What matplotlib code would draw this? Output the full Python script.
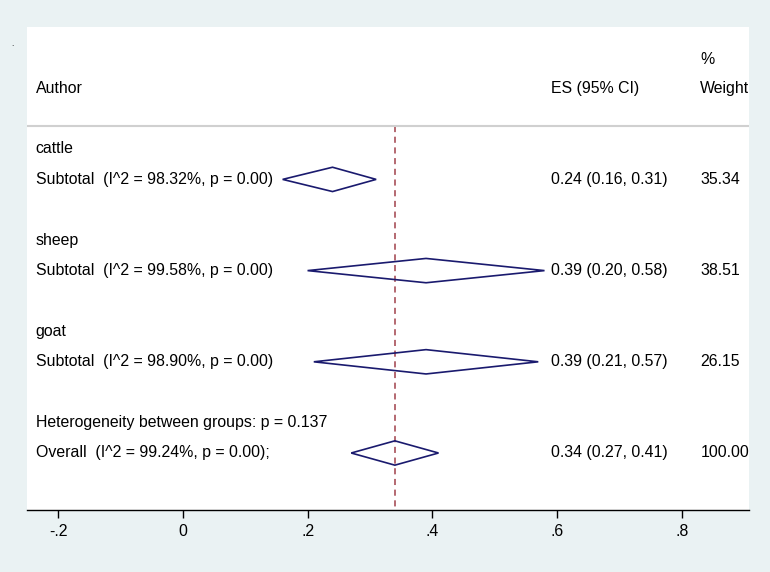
import numpy as np
import matplotlib.pyplot as plt
from matplotlib.patches import Polygon

plt.rcParams['font.family'] = ['Liberation Sans', 'DejaVu Sans']

# subgroup / overall pooled estimates
labels = ['Subtotal  (I^2 = 98.32%, p = 0.00)',
          'Subtotal  (I^2 = 99.58%, p = 0.00)',
          'Subtotal  (I^2 = 98.90%, p = 0.00)',
          'Overall  (I^2 = 99.24%, p = 0.00);']
groups = ['cattle', 'sheep', 'goat', 'Heterogeneity between groups: p = 0.137']
es = [0.24, 0.39, 0.39, 0.34]
lo = [0.16, 0.20, 0.21, 0.27]
hi = [0.31, 0.58, 0.57, 0.41]
weights = ['35.34', '38.51', '26.15', '100.00']
xticks = [-0.2, 0, 0.2, 0.4, 0.6, 0.8]
xticklabels = ['-.2', '0', '.2', '.4', '.6', '.8']

# row positions (counted from the top)
group_rows = [3, 6, 9, 12]
est_rows = [4, 7, 10, 13]

fig = plt.figure(figsize=(7.7, 5.72), dpi=100)
fig.patch.set_facecolor('#eaf2f3')
ax = fig.add_axes([27 / 770, 62 / 572, 722 / 770, 483 / 572])
ax.set_facecolor('white')
ax.set_xlim(-0.25, 0.908)
ax.set_ylim(14.875, -1.013)

fs = 11.4
x_lab = -0.236
x_es = 0.591
x_w = 0.83

ax.text(x_w, 0.05, '%', fontsize=fs, va='center')
ax.text(x_lab, 1, 'Author', fontsize=fs, va='center')
ax.text(x_es, 1, 'ES (95% CI)', fontsize=fs, va='center')
ax.text(x_w, 1, 'Weight', fontsize=fs, va='center', clip_on=True)
ax.axhline(2.24, color='#d0d0d0', lw=1.5)

ax.plot([es[3], es[3]], [2.24, 14.875], color='#a0404a', lw=1.1,
        ls=(0, (4, 3)), zorder=1)

for i in range(len(es)):
    ax.text(x_lab, group_rows[i], groups[i], fontsize=fs, va='center')
    ax.text(x_lab, est_rows[i], labels[i], fontsize=fs, va='center')
    ax.text(x_es, est_rows[i], '%.2f (%.2f, %.2f)' % (es[i], lo[i], hi[i]),
            fontsize=fs, va='center')
    ax.text(x_w, est_rows[i], weights[i], fontsize=fs, va='center',
            clip_on=True)
    r = est_rows[i]
    d = Polygon([[lo[i], r], [es[i], r - 0.4], [hi[i], r], [es[i], r + 0.4]],
                closed=True, fill=False, edgecolor='#1a1a6e', lw=1.2, zorder=3)
    ax.add_patch(d)

for s in ['top', 'left', 'right']:
    ax.spines[s].set_visible(False)
ax.spines['bottom'].set_linewidth(1.0)
ax.set_yticks([])
ax.set_xticks(xticks)
ax.set_xticklabels(xticklabels, fontsize=fs)
ax.tick_params(axis='x', direction='out', length=6, width=1, pad=4)

fig.text(12 / 770, 1 - 45 / 572, '.', fontsize=6, ha='center', va='center')

fig.savefig('out.png', dpi=100, facecolor=fig.get_facecolor())
